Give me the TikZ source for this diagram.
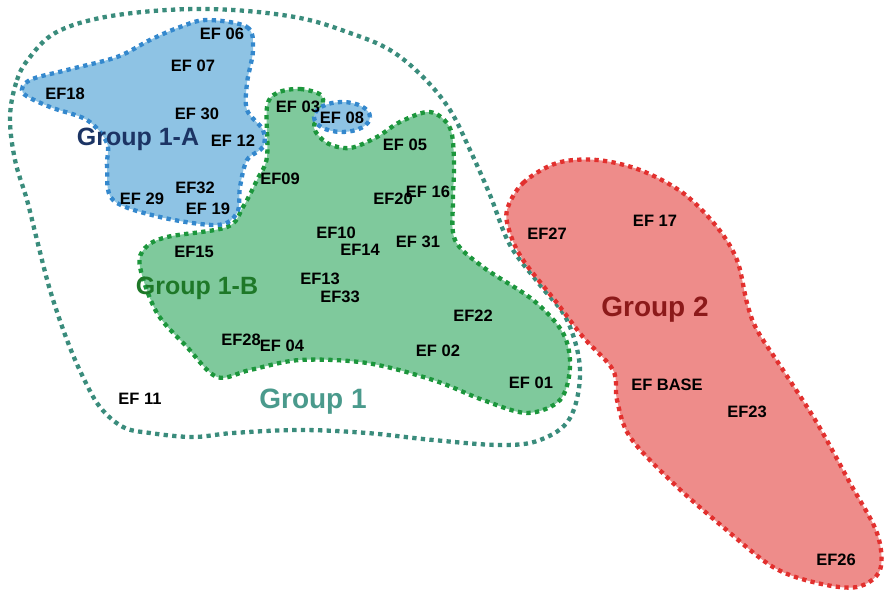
\documentclass[tikz,border=0pt]{standalone}
\usepackage{fontspec}
\setmainfont{Liberation Sans}
\definecolor{tealdot}{RGB}{58,140,124}
\definecolor{tealtxt}{RGB}{74,154,140}
\definecolor{bluefill}{RGB}{142,195,228}
\definecolor{bluedot}{RGB}{52,136,205}
\definecolor{navytxt}{RGB}{28,52,100}
\definecolor{greenfill}{RGB}{127,201,156}
\definecolor{greendot}{RGB}{28,150,60}
\definecolor{greentxt}{RGB}{30,120,40}
\definecolor{redfill}{RGB}{238,140,138}
\definecolor{reddot}{RGB}{226,48,46}
\definecolor{redtxt}{RGB}{140,26,26}
\tikzset{
  dotline/.style={line width=4.3pt, dash pattern=on 4.3pt off 4.3pt},
  lbl/.style={font=\fontsize{16.5}{16.5}\selectfont\bfseries, text=black, inner sep=0pt},
  glbl/.style={font=\fontsize{25}{25}\selectfont\bfseries, inner sep=0pt},
}
\begin{document}
\begin{tikzpicture}[x=1pt,y=-1pt]
\useasboundingbox (0,0) rectangle (884,596);
% Group 1 outer
\draw[dotline, draw=tealdot] plot[smooth cycle, tension=0.6] coordinates {
 (10,117) (17,80) (30,57) (55,33) (100,18) (167,10) (233,10) (300,18) (350,33) (390,50) (423,77)
 (450,110) (470,150) (490,195) (510,245) (540,285) (567,320) (580,370) (570,418) (540,440)
 (500,445) (433,440) (367,433) (300,430) (233,433) (193,437) (150,433) (123,427) (100,407)
 (83,377) (67,340) (50,290) (37,240) (27,200) (15,160)};
% Group 1-B green
\draw[dotline, draw=greendot, fill=greenfill] plot[smooth cycle, tension=0.55] coordinates {
 (277,93) (300,89) (322,96) (320,113) (314,128) (327,143) (350,148) (377,137) (400,122)
 (430,112) (450,128) (454,163) (453,200) (455,240) (483,267) (533,300) (563,333) (570,367)
 (560,400) (527,413) (483,400) (433,380) (367,363) (300,360) (250,370) (217,377) (187,347)
 (157,313) (140,267) (145,248) (167,237) (227,227) (243,207) (257,180) (267,157) (267,107)};
% Group 1-A blue
\draw[dotline, draw=bluedot, fill=bluefill] plot[smooth cycle, tension=0.55] coordinates {
 (207,20) (247,27) (253,50) (247,83) (247,110) (263,130) (263,147) (247,160) (240,187)
 (237,213) (217,225) (160,217) (113,200) (107,167) (107,143) (87,120) (50,107) (23,93)
 (30,80) (67,70) (117,57) (150,40) (180,27)};
% EF 08 ellipse
\draw[dotline, draw=bluedot, fill=bluefill] (342,117) ellipse [x radius=28pt, y radius=15pt];
% Group 2 red
\draw[dotline, draw=reddot, fill=redfill] plot[smooth cycle, tension=0.55] coordinates {
 (507,210) (523,183) (557,163) (597,160) (640,170) (683,193) (717,227) (737,260) (747,303)
 (757,330) (783,370) (817,423) (850,483) (877,533) (880,570) (857,587) (817,583) (773,567)
 (723,527) (673,483) (630,437) (617,400) (613,370) (583,337) (557,303) (523,260) (510,233)};
% labels
\node[lbl] (ef06) at (222,34) {EF 06};
\node[lbl] (ef07) at (193,66) {EF 07};
\node[lbl] (ef18) at (65,94) {EF18};
\node[lbl] (ef30) at (197,114) {EF 30};
\node[lbl] (ef12) at (233,141) {EF 12};
\node[lbl] (ef32) at (195,188) {EF32};
\node[lbl] (ef29) at (142,199) {EF 29};
\node[lbl] (ef19) at (208,209) {EF 19};
\node[lbl] (ef03) at (298,107) {EF 03};
\node[lbl] (ef08) at (342,118) {EF 08};
\node[lbl] (ef05) at (405,145) {EF 05};
\node[lbl] (ef09) at (280,179) {EF09};
\node[lbl] (ef20) at (393,199) {EF20};
\node[lbl] (ef16) at (428,192) {EF 16};
\node[lbl] (ef10) at (336,233) {EF10};
\node[lbl] (ef14) at (360,250) {EF14};
\node[lbl] (ef31) at (418,242) {EF 31};
\node[lbl] (ef15) at (194,252) {EF15};
\node[lbl] (ef13) at (320,279) {EF13};
\node[lbl] (ef33) at (340,297) {EF33};
\node[lbl] (ef22) at (473,316) {EF22};
\node[lbl] (ef28) at (241,340) {EF28};
\node[lbl] (ef04) at (282,346) {EF 04};
\node[lbl] (ef02) at (438,351) {EF 02};
\node[lbl] (ef01) at (531,383) {EF 01};
\node[lbl] (ef11) at (140,399) {EF 11};
\node[lbl] (ef27) at (547,234) {EF27};
\node[lbl] (ef17) at (655,221) {EF 17};
\node[lbl] (efbase) at (667,385) {EF BASE};
\node[lbl] (ef23) at (747,412) {EF23};
\node[lbl] (ef26) at (836,560) {EF26};
\node[glbl, text=navytxt] (g1a) at (138,139) {Group 1-A};
\node[glbl, text=greentxt] (g1b) at (197,288) {Group 1-B};
\node[glbl, text=tealtxt, font=\fontsize{28}{28}\selectfont\bfseries] (g1) at (313,402) {Group 1};
\node[glbl, text=redtxt, font=\fontsize{28}{28}\selectfont\bfseries] (g2) at (655,310) {Group 2};
\end{tikzpicture}
\end{document}
